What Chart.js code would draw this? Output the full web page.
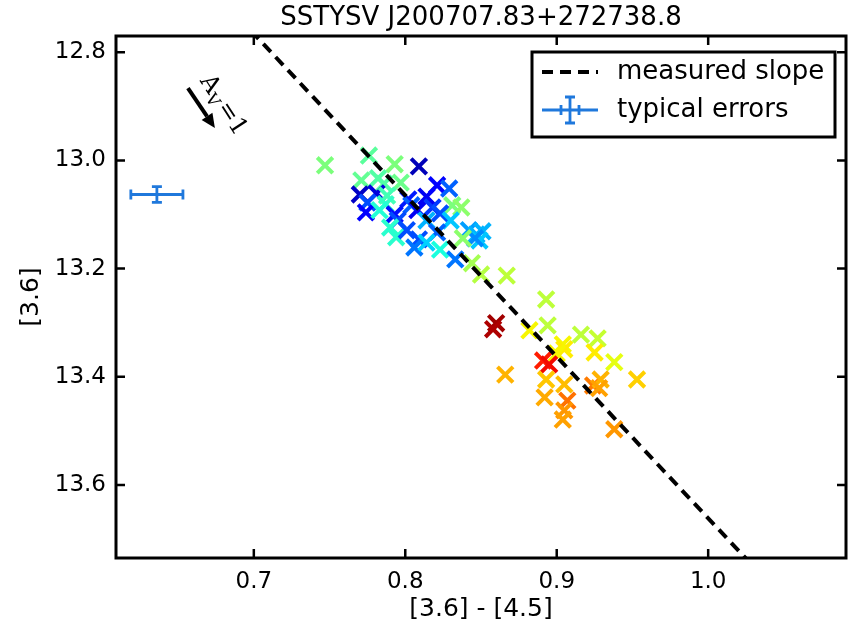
<!DOCTYPE html>
<html><head><meta charset="utf-8">
<script src="https://cdn.jsdelivr.net/npm/chart.js@4/dist/chart.umd.min.js"></script>
<style>html,body{margin:0;padding:0;background:#fff}#wrap{width:848px;height:629px;position:relative}</style>
</head><body><div id="wrap"><canvas id="c" width="848" height="629"></canvas></div>
<script>
// ---- data ----
const colorX = [0.747,0.776,0.793,0.809,0.771,0.782,0.786,0.797,0.770,0.781,0.775,0.774,0.788,0.787,0.783,0.802,0.804,0.808,0.814,0.821,0.829,0.818,0.831,0.837,0.793,0.795,0.814,0.823,0.830,0.790,0.794,0.801,0.809,0.821,0.806,0.823,0.814,0.842,0.847,0.851,0.849,0.846,0.838,0.833,0.844,
  0.850,0.867,0.893,0.894,0.860,0.858,0.882,0.916,0.927,0.904,0.905,0.900,0.925,0.938,0.891,0.895,0.866,0.893,0.905,0.924,0.929,0.928,0.953,0.892,0.907,0.905,0.904,0.938];
const mag36 = [13.009,12.991,13.007,13.011,13.037,13.033,13.043,13.041,13.063,13.061,13.078,13.096,13.065,13.081,13.092,13.072,13.083,13.092,13.067,13.046,13.052,13.087,13.083,13.087,13.100,13.111,13.111,13.098,13.111,13.124,13.142,13.129,13.146,13.133,13.161,13.165,13.152,13.129,13.137,13.131,13.148,13.144,13.144,13.183,13.190,
  13.211,13.213,13.257,13.305,13.301,13.312,13.314,13.322,13.329,13.340,13.349,13.357,13.355,13.373,13.370,13.377,13.396,13.405,13.414,13.416,13.405,13.421,13.405,13.438,13.444,13.462,13.479,13.497];
const timeFrac = [0.50,0.46,0.50,0.05,0.47,0.45,0.45,0.48,0.06,0.08,0.20,0.12,0.43,0.41,0.39,0.15,0.22,0.10,0.10,0.12,0.22,0.18,0.50,0.52,0.14,0.20,0.30,0.20,0.32,0.40,0.40,0.20,0.20,0.22,0.24,0.38,0.33,0.28,0.30,0.30,0.32,0.26,0.52,0.24,0.55,
  0.57,0.58,0.58,0.58,0.97,0.96,0.65,0.58,0.59,0.65,0.66,0.65,0.66,0.63,0.88,0.90,0.72,0.70,0.71,0.78,0.72,0.74,0.69,0.73,0.79,0.75,0.74,0.75];
const slopeX = [0.69, 1.03];
const slopeY = [12.736, 13.751];
const errPoint = [0.636, 13.063];
const errSize = [0.0172, 0.0145];
const arrowX = [0.6565, 0.6743];
const arrowY = [12.8665, 12.940];
const xTicks = [0.7, 0.8, 0.9, 1.0];
const yTicks = [12.8, 13.0, 13.2, 13.4, 13.6];
const titleText = 'SSTYSV J200707.83+272738.8';
const xLabel = '[3.6] - [4.5]';
const yLabel = '[3.6]';
const legendLabels = ['measured slope', 'typical errors'];

// matplotlib "jet" colormap
const JET = {
  r:[[0,0],[0.35,0],[0.66,1],[0.89,1],[1,0.5]],
  g:[[0,0],[0.125,0],[0.375,1],[0.64,1],[0.91,0],[1,0]],
  b:[[0,0.5],[0.11,1],[0.34,1],[0.65,0],[1,0]]
};
function seg(s,c){
  for(let i=1;i<s.length;i++){ if(c<=s[i][0]){const t=(c-s[i-1][0])/(s[i][0]-s[i-1][0]); return s[i-1][1]+t*(s[i][1]-s[i-1][1]);} }
  return s[s.length-1][1];
}
function jet(c){
  const f=v=>Math.round(255*Math.max(0,Math.min(1,v)));
  return `rgb(${f(seg(JET.r,c))},${f(seg(JET.g,c))},${f(seg(JET.b,c))})`;
}
const ptColors = timeFrac.map(jet);
const ERR = '#1f78dc';
const FONT = "'DejaVu Sans', sans-serif";

const decor = {
  id:'decor',
  afterDraw(chart){
    const ctx=chart.ctx, xs=chart.scales.x, ys=chart.scales.y, a=chart.chartArea;
    ctx.save();
    // error bar
    const cx=xs.getPixelForValue(errPoint[0]), cy=ys.getPixelForValue(errPoint[1]);
    const x1=xs.getPixelForValue(errPoint[0]-errSize[0]), x2=xs.getPixelForValue(errPoint[0]+errSize[0]);
    const y1=ys.getPixelForValue(errPoint[1]-errSize[1]), y2=ys.getPixelForValue(errPoint[1]+errSize[1]);
    ctx.strokeStyle=ERR; ctx.lineWidth=2.8;
    ctx.beginPath();
    ctx.moveTo(x1,cy);ctx.lineTo(x2,cy);
    ctx.moveTo(cx,y1);ctx.lineTo(cx,y2);
    ctx.moveTo(x1,cy-5);ctx.lineTo(x1,cy+5);
    ctx.moveTo(x2,cy-5);ctx.lineTo(x2,cy+5);
    ctx.moveTo(cx-5,y1);ctx.lineTo(cx+5,y1);
    ctx.moveTo(cx-5,y2);ctx.lineTo(cx+5,y2);
    ctx.stroke();
    // arrow
    const ax1=xs.getPixelForValue(arrowX[0]), ay1=ys.getPixelForValue(arrowY[0]);
    const ax2=xs.getPixelForValue(arrowX[1]), ay2=ys.getPixelForValue(arrowY[1]);
    const ang=Math.atan2(ay2-ay1, ax2-ax1);
    const hl=14, hw=6.5;
    const bx=ax2-hl*Math.cos(ang), by=ay2-hl*Math.sin(ang);
    ctx.strokeStyle='#000'; ctx.fillStyle='#000'; ctx.lineWidth=4;
    ctx.beginPath(); ctx.moveTo(ax1,ay1); ctx.lineTo(bx,by); ctx.stroke();
    ctx.beginPath();
    ctx.moveTo(ax2,ay2);
    ctx.lineTo(bx+hw*Math.sin(ang), by-hw*Math.cos(ang));
    ctx.lineTo(bx-hw*Math.sin(ang), by+hw*Math.cos(ang));
    ctx.closePath(); ctx.fill();
    // A_V = 1 text
    ctx.save();
    ctx.translate(ax1+30, ay1+21);
    ctx.rotate(57*Math.PI/180);
    ctx.fillStyle='#000';
    ctx.textBaseline='alphabetic'; ctx.textAlign='left';
    ctx.font="24px 'DejaVu Serif', serif";
    let tx=-34;
    ctx.fillText('A',tx,0); tx+=ctx.measureText('A').width;
    ctx.font="17px 'DejaVu Serif', serif";
    ctx.fillText('V',tx,5); tx+=ctx.measureText('V').width+2;
    ctx.font="24px 'DejaVu Serif', serif";
    ctx.fillText('=1',tx,0);
    ctx.restore();
    // frame
    ctx.strokeStyle='#000'; ctx.lineWidth=3;
    ctx.strokeRect(a.left,a.top,a.right-a.left,a.bottom-a.top);
    // ticks inward
    ctx.lineWidth=2.5; ctx.beginPath();
    xTicks.forEach(v=>{const p=xs.getPixelForValue(v);
      ctx.moveTo(p,a.bottom);ctx.lineTo(p,a.bottom-9);
      ctx.moveTo(p,a.top);ctx.lineTo(p,a.top+9);});
    yTicks.forEach(v=>{const p=ys.getPixelForValue(v);
      ctx.moveTo(a.left,p);ctx.lineTo(a.left+9,p);
      ctx.moveTo(a.right,p);ctx.lineTo(a.right-9,p);});
    ctx.stroke();
    // legend
    const L={l:532,t:52,r:835,b:137};
    ctx.fillStyle='#fff'; ctx.fillRect(L.l,L.t,L.r-L.l,L.b-L.t);
    ctx.strokeStyle='#000'; ctx.lineWidth=3; ctx.strokeRect(L.l,L.t,L.r-L.l,L.b-L.t);
    ctx.setLineDash([11,7]); ctx.lineWidth=4;
    ctx.beginPath(); ctx.moveTo(542,72); ctx.lineTo(598,72); ctx.stroke();
    ctx.setLineDash([]);
    ctx.strokeStyle=ERR; ctx.lineWidth=2.8; ctx.beginPath();
    ctx.moveTo(542,110);ctx.lineTo(598,110);
    ctx.moveTo(570,97);ctx.lineTo(570,123);
    ctx.moveTo(565,97);ctx.lineTo(575,97);
    ctx.moveTo(565,123);ctx.lineTo(575,123);
    ctx.moveTo(561,105);ctx.lineTo(561,115);
    ctx.moveTo(579,105);ctx.lineTo(579,115);
    ctx.stroke();
    ctx.fillStyle='#000'; ctx.font='26px '+FONT; ctx.textBaseline='middle'; ctx.textAlign='left';
    ctx.fillText(legendLabels[0],617,72);
    ctx.fillText(legendLabels[1],617,110);
    // titles
    ctx.textAlign='center';
    ctx.font='26px '+FONT;
    ctx.fillText(titleText,(a.left+a.right)/2,18);
    ctx.font='25px '+FONT;
    ctx.fillText(xLabel,(a.left+a.right)/2,609);
    ctx.save(); ctx.translate(31,(a.top+a.bottom)/2); ctx.rotate(-Math.PI/2);
    ctx.fillText(yLabel,0,0); ctx.restore();
    ctx.restore();
  }
};

new Chart(document.getElementById('c'),{
  type:'scatter',
  data:{datasets:[
    {type:'line',label:legendLabels[0],data:slopeX.map((x,i)=>({x,y:slopeY[i]})),borderColor:'#000',borderWidth:4,borderDash:[11,7],pointRadius:0,fill:false,order:0,clip:0},
    {label:'points',data:colorX.map((x,i)=>({x,y:mag36[i]})),pointStyle:'crossRot',pointRadius:11,pointBorderWidth:4,pointBorderColor:ptColors,pointBackgroundColor:ptColors,order:1,clip:false}
  ]},
  options:{
    responsive:false,animation:false,devicePixelRatio:1,events:[],
    layout:{autoPadding:false,padding:{top:36,right:2,left:0,bottom:0}},
    plugins:{legend:{display:false},tooltip:{enabled:false},title:{display:false}},
    scales:{
      x:{type:'linear',min:0.609,max:1.091,
        afterBuildTicks:s=>{s.ticks=xTicks.map(v=>({value:v}));},
        afterFit:s=>{s.height=71;s.paddingLeft=0;s.paddingRight=0;},
        grid:{display:false,drawTicks:false},border:{display:false},
        ticks:{callback:v=>v.toFixed(1),color:'#000',font:{family:FONT,size:23},padding:10,maxRotation:0}},
      y:{type:'linear',reverse:true,min:12.77,max:13.735,
        afterBuildTicks:s=>{s.ticks=yTicks.map(v=>({value:v}));},
        afterFit:s=>{s.width=116;s.paddingTop=0;s.paddingBottom=0;},
        grid:{display:false,drawTicks:false},border:{display:false},
        ticks:{callback:v=>v.toFixed(1),color:'#000',font:{family:FONT,size:23},padding:10}}
    }
  },
  plugins:[decor]
});
</script></body></html>
